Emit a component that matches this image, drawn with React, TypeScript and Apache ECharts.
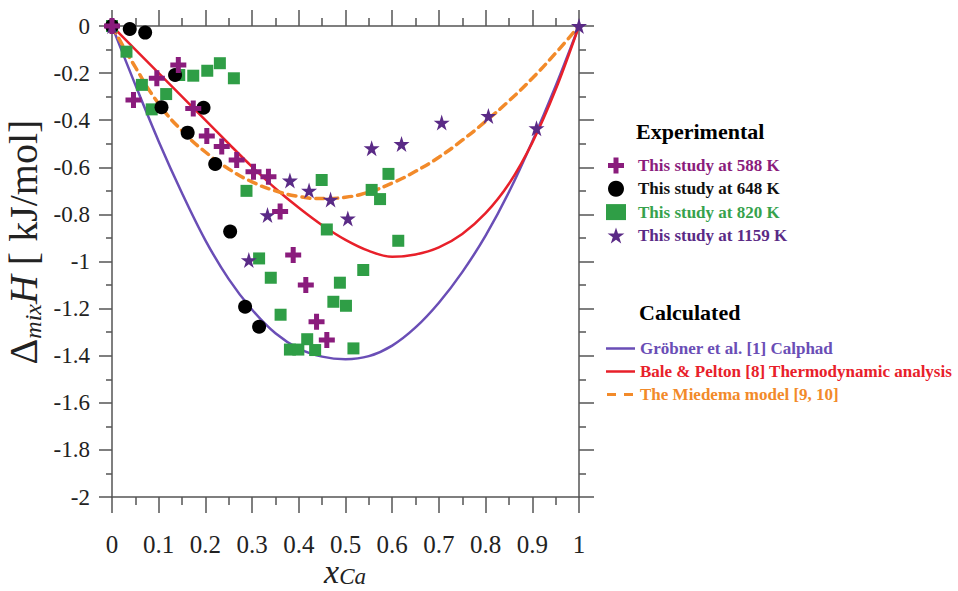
import React, { useEffect, useRef } from "react";
import * as echarts from "echarts";

// Experimental data [x_Ca, ΔmixH kJ/mol]
const study588: [number, number][] = [
  [0, 0], [0.046, -0.314], [0.096, -0.222], [0.142, -0.166], [0.174, -0.35],
  [0.203, -0.467], [0.235, -0.512], [0.267, -0.569], [0.303, -0.619], [0.335, -0.64],
  [0.36, -0.788], [0.388, -0.972], [0.415, -1.1], [0.438, -1.256], [0.46, -1.333],
];
const study648: [number, number][] = [
  [0, 0], [0.038, -0.013], [0.071, -0.028], [0.106, -0.345], [0.135, -0.208],
  [0.162, -0.453], [0.196, -0.347], [0.221, -0.586], [0.253, -0.873], [0.285, -1.192],
  [0.315, -1.277],
];
const study820: [number, number][] = [
  [0, 0], [0.031, -0.109], [0.064, -0.25], [0.085, -0.354], [0.116, -0.289],
  [0.144, -0.208], [0.174, -0.211], [0.204, -0.19], [0.231, -0.158], [0.261, -0.222],
  [0.288, -0.7], [0.315, -0.987], [0.34, -1.069], [0.361, -1.226], [0.381, -1.374],
  [0.399, -1.374], [0.418, -1.33], [0.435, -1.376], [0.449, -0.654], [0.46, -0.864],
  [0.474, -1.171], [0.488, -1.09], [0.501, -1.188], [0.517, -1.369], [0.538, -1.036],
  [0.556, -0.696], [0.574, -0.735], [0.592, -0.628], [0.613, -0.912],
];
const study1159: [number, number][] = [
  [0, 0], [0.293, -0.994], [0.333, -0.803], [0.381, -0.656], [0.422, -0.699],
  [0.468, -0.737], [0.505, -0.817], [0.556, -0.519], [0.62, -0.501], [0.706, -0.41],
  [0.806, -0.382], [0.909, -0.434], [1, 0],
];

// Calculated curves
const curveX = [0, 0.05, 0.1, 0.15, 0.2, 0.25, 0.3, 0.35, 0.4, 0.45, 0.5, 0.55, 0.6, 0.65, 0.7, 0.75, 0.8, 0.85, 0.9, 0.95, 1];
const groebner = [0, -0.25, -0.49, -0.71, -0.91, -1.075, -1.205, -1.305, -1.37, -1.404, -1.415, -1.402, -1.357, -1.28, -1.175, -1.045, -0.89, -0.705, -0.49, -0.255, 0];
const balePelton = [0, -0.1, -0.2, -0.3, -0.4, -0.5, -0.598, -0.69, -0.772, -0.846, -0.908, -0.955, -0.98, -0.97, -0.94, -0.883, -0.795, -0.67, -0.495, -0.27, 0];
const miedema = [0, -0.175, -0.33, -0.445, -0.535, -0.607, -0.662, -0.7, -0.724, -0.733, -0.727, -0.705, -0.667, -0.617, -0.557, -0.485, -0.405, -0.318, -0.222, -0.115, 0];

const expNames = ["This study at 588 K", "This study at 648 K", "This study at 820 K", "This study at 1159 K"];
const calcNames = ["Gröbner et al. [1] Calphad", "Bale & Pelton [8] Thermodynamic analysis", "The Miedema model [9, 10]"];

const C_CROSS = "#8a1c7c";
const C_CIRCLE = "#000000";
const C_SQUARE = "#2f9e46";
const C_STAR = "#5a2a86";
const C_PURPLE = "#6a4eb6";
const C_RED = "#e8202a";
const C_ORANGE = "#f28a2a";

const SERIF = "Liberation Serif";

const CROSS = "path://M0,5.5H5.5V0H10.5V5.5H16V10.5H10.5V16H5.5V10.5H0Z";
const STAR = "path://M50,0L61.8,36.2L100,36.2L69.1,58.8L80.9,95.1L50,72.7L19.1,95.1L30.9,58.8L0,36.2L38.2,36.2Z";
const SOLID_ICON = "path://M0,0H0.05V0.05H0Z M0,5.8H29V8.2H0Z M28.95,13.95H29V14H28.95Z";
const DASH_ICON = "path://M0,0H0.05V0.05H0Z M1,5.5H10V8.5H1Z M18,5.5H27V8.5H18Z M28.95,13.95H29V14H28.95Z";

const zip = (xs: number[], ys: number[]) => xs.map((x, i) => [x, ys[i]]);

export default function App() {
  const ref = useRef<HTMLDivElement>(null);
  useEffect(() => {
    if (!ref.current) return;
    const chart = echarts.init(ref.current, null, { renderer: "svg" });
    const axisCol = "#555";
    const baseX = {
      type: "value" as const,
      min: 0,
      max: 1,
      interval: 0.1,
      splitLine: { show: false },
      axisLine: { show: true, onZero: false, lineStyle: { color: axisCol, width: 1.5 } },
      axisTick: { show: true, inside: false, length: 16, lineStyle: { color: axisCol, width: 1.5 } },
      minorTick: { show: true, splitNumber: 2, length: 8, lineStyle: { color: axisCol, width: 1.5 } },
    };
    const baseY = {
      type: "value" as const,
      min: -2,
      max: 0,
      interval: 0.2,
      splitLine: { show: false },
      axisLine: { show: true, onZero: false, lineStyle: { color: axisCol, width: 1.5 } },
      axisTick: { show: true, inside: false, length: 13, lineStyle: { color: axisCol, width: 1.5 } },
      minorTick: { show: true, splitNumber: 2, length: 6, lineStyle: { color: axisCol, width: 1.5 } },
    };
    const option: any = {
      animation: false,
      backgroundColor: "#ffffff",
      grid: { left: 112, right: 379, top: 26, bottom: 94, containLabel: false },
      xAxis: [
        {
          ...baseX,
          position: "bottom",
          axisLabel: { show: true, margin: 37, fontSize: 25, lineHeight: 20, fontFamily: SERIF, color: "#222" },
        },
        {
          ...baseX,
          position: "top",
          axisLabel: { show: false },
        },
      ],
      yAxis: [
        {
          ...baseY,
          position: "left",
          axisLabel: { show: true, margin: 22, fontSize: 23, fontFamily: SERIF, color: "#222" },
        },
        {
          ...baseY,
          position: "right",
          axisTick: { ...baseY.axisTick, length: 15 },
          minorTick: { ...baseY.minorTick, length: 7 },
          axisLabel: { show: false },
        },
      ],
      legend: [
        {
          orient: "vertical",
          left: 606,
          top: 157,
          padding: 0,
          itemWidth: 20,
          itemHeight: 16,
          itemGap: 6.3,
          textStyle: { fontFamily: SERIF, fontWeight: "bold", fontSize: 17, padding: [0, 0, 0, 7] },
          data: [
            { name: expNames[0], textStyle: { color: C_CROSS } },
            { name: expNames[1], textStyle: { color: "#111" } },
            { name: expNames[2], textStyle: { color: "#36a24c" } },
            { name: expNames[3], textStyle: { color: C_STAR } },
          ],
        },
        {
          orient: "vertical",
          left: 606,
          top: 340,
          padding: 0,
          itemWidth: 29,
          itemHeight: 14,
          itemGap: 6,
          textStyle: { fontFamily: SERIF, fontWeight: "bold", fontSize: 17 },
          data: [
            { name: calcNames[0], icon: SOLID_ICON, textStyle: { color: C_PURPLE } },
            { name: calcNames[1], icon: SOLID_ICON, textStyle: { color: C_RED } },
            { name: calcNames[2], icon: DASH_ICON, textStyle: { color: C_ORANGE } },
          ],
        },
      ],
      graphic: [
        {
          type: "text",
          left: 636,
          top: 120,
          style: { text: "Experimental", fontFamily: SERIF, fontWeight: "bold", fontSize: 22, fill: "#000" },
        },
        {
          type: "text",
          left: 639,
          top: 301,
          style: { text: "Calculated", fontFamily: SERIF, fontWeight: "bold", fontSize: 22, fill: "#000" },
        },
        {
          type: "text",
          x: 345,
          y: 571,
          style: {
            text: "{a|x}{b|Ca}",
            align: "center",
            verticalAlign: "middle",
            fill: "#222",
            rich: {
              a: { fontFamily: SERIF, fontStyle: "italic", fontSize: 34, lineHeight: 34, fill: "#222" },
              b: { fontFamily: SERIF, fontStyle: "italic", fontSize: 23, lineHeight: 12, verticalAlign: "bottom", fill: "#222" },
            },
          },
        },
        {
          type: "text",
          x: 23,
          y: 242,
          rotation: Math.PI / 2,
          style: {
            text: "{a|Δ}{b|mix}{c|H}{a| [ kJ/mol]}",
            align: "center",
            verticalAlign: "middle",
            fill: "#222",
            rich: {
              a: { fontFamily: SERIF, fontSize: 40, lineHeight: 44, fill: "#222" },
              b: { fontFamily: SERIF, fontStyle: "italic", fontSize: 24, lineHeight: 23, verticalAlign: "bottom", fill: "#222" },
              c: { fontFamily: SERIF, fontStyle: "italic", fontSize: 40, lineHeight: 44, fill: "#222" },
            },
          },
        },
      ],
      series: [
        {
          name: calcNames[0],
          type: "line",
          data: zip(curveX, groebner),
          smooth: 0.35,
          symbol: "none",
          z: 2,
          lineStyle: { color: C_PURPLE, width: 2.5 },
          itemStyle: { color: C_PURPLE },
        },
        {
          name: calcNames[1],
          type: "line",
          data: zip(curveX, balePelton),
          smooth: 0.35,
          symbol: "none",
          z: 2,
          lineStyle: { color: C_RED, width: 2.5 },
          itemStyle: { color: C_RED },
        },
        {
          name: calcNames[2],
          type: "line",
          data: zip(curveX, miedema),
          smooth: 0.5,
          symbol: "none",
          z: 2,
          lineStyle: { color: C_ORANGE, width: 3.5, type: [8, 6], cap: "round" },
          itemStyle: { color: C_ORANGE },
        },
        {
          name: expNames[2],
          type: "scatter",
          data: study820,
          symbol: "rect",
          symbolSize: 12,
          z: 3,
          itemStyle: { color: C_SQUARE, opacity: 1 },
        },
        {
          name: expNames[1],
          type: "scatter",
          data: study648,
          symbol: "circle",
          symbolSize: 14,
          z: 3,
          itemStyle: { color: C_CIRCLE, opacity: 1 },
        },
        {
          name: expNames[3],
          type: "scatter",
          data: study1159,
          symbol: STAR,
          symbolSize: 16,
          z: 4,
          itemStyle: { color: C_STAR, opacity: 1 },
        },
        {
          name: expNames[0],
          type: "scatter",
          data: study588,
          symbol: CROSS,
          symbolSize: 16,
          z: 4,
          itemStyle: { color: C_CROSS, opacity: 1 },
        },
      ],
    };
    chart.setOption(option);
    return () => chart.dispose();
  }, []);
  return (
    <div
      ref={ref}
      style={{ position: "fixed", left: 0, top: 0, width: 958, height: 591, background: "#fff" }}
    />
  );
}
